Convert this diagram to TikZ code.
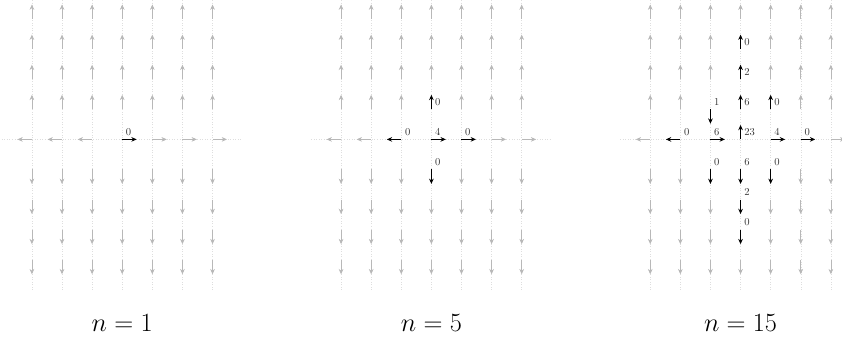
\documentclass[tikz,border=0pt]{standalone}
\usetikzlibrary{arrows.meta}
\newcommand\hotlist{%
0/0/0/1/0/0,%
1/0/0/1/0/4, 1/-1/0/-1/0/0, 1/1/0/1/0/0, 1/0/1/0/1/0, 1/0/-1/0/-1/0,%
2/0/3/0/1/0, 2/0/2/0/1/2, 2/0/1/0/1/6, 2/1/1/0/1/0, 2/-1/1/0/-1/1,%
2/0/0/0/1/23, 2/-2/0/-1/0/0, 2/-1/0/1/0/6, 2/1/0/1/0/4, 2/2/0/1/0/0,%
2/-1/-1/0/-1/0, 2/0/-1/0/-1/6, 2/1/-1/0/-1/0, 2/0/-2/0/-1/2, 2/0/-3/0/-1/0}
\begin{document}
\begin{tikzpicture}[x=1cm,y=1cm,
  rotor/.style={line width=0.6pt, draw=black!28, -{Stealth[length=5pt,width=4.4pt]}},
  hot/.style={line width=0.9pt, draw=black, -{Stealth[length=5pt,width=4.4pt]}},
  gridln/.style={draw=black!13, dotted, line width=0.4pt},
  cnt/.style={anchor=south west, font=\normalsize, text=black!80},
  capt/.style={anchor=base, font=\fontsize{27}{32}\selectfont}]
\useasboundingbox (-4.06,-6.70) rectangle (23.91,4.63);
% dotted guide lines and captions
\foreach \p/\ox/\nn in {0/0/1, 1/10.27/5, 2/20.54/15}{
  \foreach \i in {-3,...,3}{
    \draw[gridln] ({\ox+\i},-5) -- ({\ox+\i},5);
  }
  \draw[gridln] ({\ox-4},0) -- ({\ox+4},0);
  \node[capt] (cap\p) at (\ox,-6.39) {$n=\nn$};
}
% mark visited sites
\foreach \p/\i/\j/\dx/\dy/\c in \hotlist{
  \expandafter\xdef\csname hot-\p-\i-\j\endcsname{}
}
% default (grey) rotors
\foreach \p/\ox in {0/0, 1/10.27, 2/20.54}{
  \foreach \i in {-3,...,3}{
    \foreach \j in {-4,...,4}{
      \ifcsname hot-\p-\i-\j\endcsname\else
        \ifnum\j>0
          \draw[rotor] ({\ox+\i},\j) -- ++(0,0.48);
        \else\ifnum\j<0
          \draw[rotor] ({\ox+\i},\j) -- ++(0,-0.48);
        \else\ifnum\i<0
          \draw[rotor] ({\ox+\i},\j) -- ++(-0.48,0);
        \else
          \draw[rotor] ({\ox+\i},\j) -- ++(0.48,0);
        \fi\fi\fi
      \fi
    }
  }
}
% visited sites (black rotors with counts)
\foreach \p/\i/\j/\dx/\dy/\c in \hotlist{
  \pgfmathsetmacro\ox{10.27*\p}
  \draw[hot] ({\ox+\i},\j) -- ++({0.48*\dx},{0.48*\dy});
  \node[cnt] (l-\p-\i-\j) at ({\ox+\i},\j) {\c};
}
\end{tikzpicture}
\end{document}
